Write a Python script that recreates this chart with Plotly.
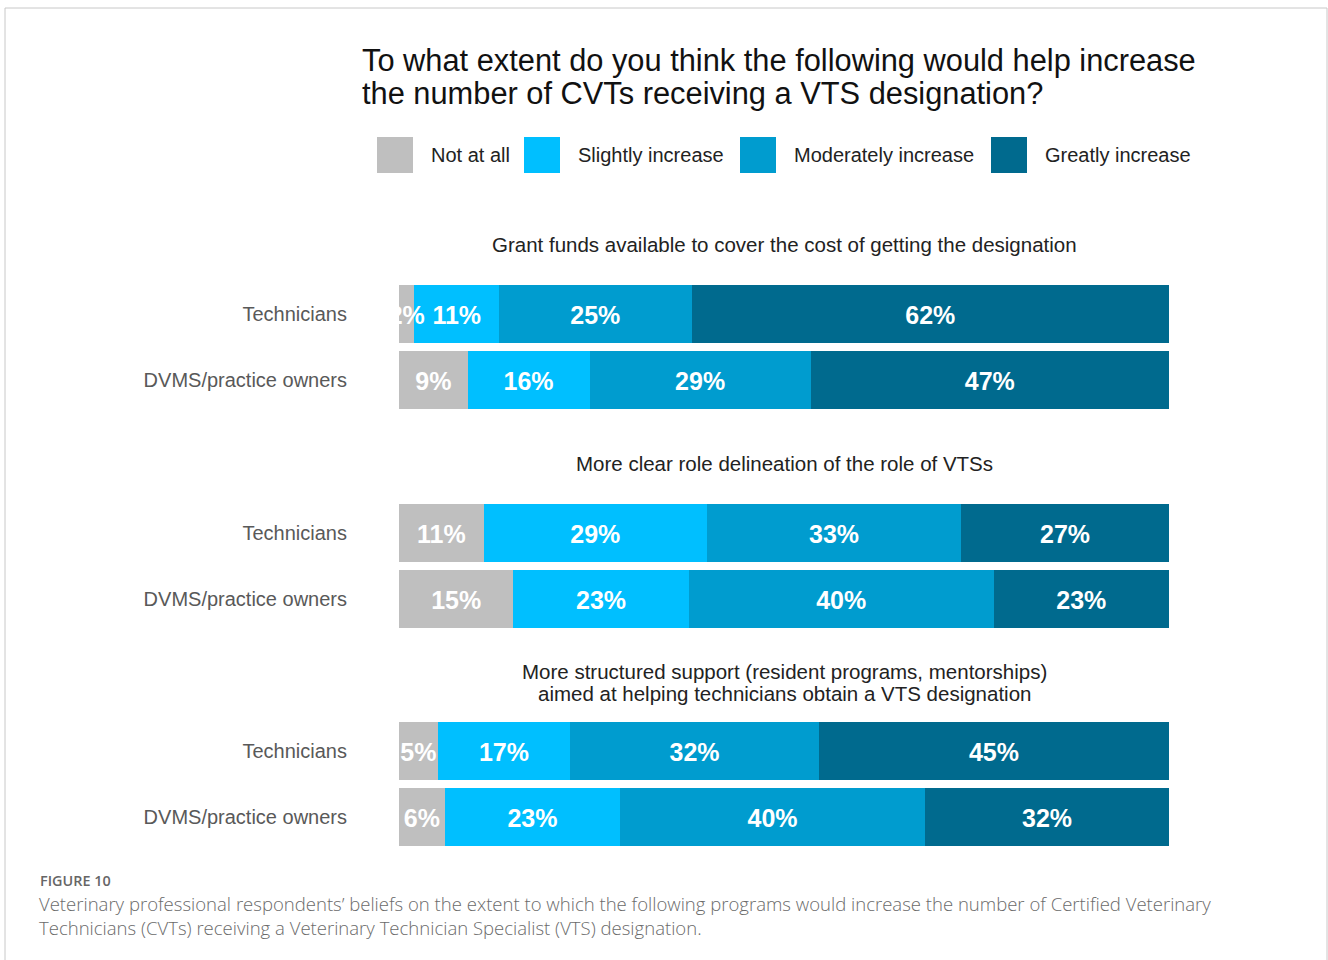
import plotly.graph_objects as go

W, H = 1328, 960
OFF = 0  # body margin removed via post_script

# ---------------- data ----------------
groups = [
    "Grant funds available to cover the cost of getting the designation",
    "More clear role delineation of the role of VTSs",
    "More structured support (resident programs, mentorships)<br>aimed at helping technicians obtain a VTS designation",
]
respondents = ["Technicians", "DVMS/practice owners"]
levels = ["Not at all", "Slightly increase", "Moderately increase", "Greatly increase"]
not_at_all = [[2, 9], [11, 15], [5, 6]]
slightly = [[11, 16], [29, 23], [17, 23]]
moderately = [[25, 29], [33, 40], [32, 40]]
greatly = [[62, 47], [27, 23], [45, 32]]
series = [not_at_all, slightly, moderately, greatly]
colors = ["#BFBFBF", "#00BFFF", "#009CCF", "#006A8E"]

title_lines = [
    "To what extent do you think the following would help increase",
    "the number of CVTs receiving a VTS designation?",
]
fig_label = "FIGURE 10"
caption_lines = [
    "Veterinary professional respondents\u2019 beliefs on the extent to which the following programs would increase the number of Certified Veterinary",
    "Technicians (CVTs) receiving a Veterinary Technician Specialist (VTS) designation.",
]

# ---------------- helpers (screen pixel -> paper) ----------------
def px(x):
    return (x - OFF) / W

def py(y):
    return 1 - (y - OFF) / H

FONT = "Liberation Sans, Arial, sans-serif"
CAP_FONT = "Open Sans, Noto Sans, sans-serif"

# bar area geometry (screen pixels)
x_left, x_right = 399, 1169
group_tops = [281, 500, 718]
group_h = 132

y_pos = list(range(len(respondents)))
label_nudge = 0.06  # optical vertical centring of value labels (fraction of a row)

fig = go.Figure()

for g in range(3):
    ax = "" if g == 0 else str(g + 1)
    # bars (normalised to 100% by barnorm)
    for k, lvl in enumerate(levels):
        vals = series[k][g]
        fig.add_trace(go.Bar(
            y=y_pos,
            x=vals,
            orientation="h",
            name=lvl,
            marker=dict(color=colors[k], line=dict(width=0)),
            showlegend=False,
            customdata=[[respondents[r], f"{vals[r]}%"] for r in y_pos],
            hovertemplate="%{customdata[0]}: %{customdata[1]}<extra>" + lvl + "</extra>",
            xaxis="x" + ax,
            yaxis="y" + ax,
        ))
    # value labels drawn on top of all bars (centre of each normalised segment)
    totals = [sum(series[k][g][r] for k in range(4)) for r in y_pos]
    cum = [0] * len(respondents)
    for k, lvl in enumerate(levels):
        vals = series[k][g]
        mids = [(cum[r] + vals[r] / 2) / totals[r] * 100 for r in y_pos]
        cum = [cum[r] + vals[r] for r in y_pos]
        fig.add_trace(go.Scatter(
            y=[p + label_nudge for p in y_pos],
            x=mids,
            mode="text",
            text=[f"{v}%" for v in vals],
            textposition="middle center",
            textfont=dict(family=FONT, size=25, color="white", weight="bold"),
            cliponaxis=True,
            showlegend=False,
            hoverinfo="skip",
            xaxis="x" + ax,
            yaxis="y" + ax,
        ))

layout_axes = {}
for g in range(3):
    ax = "" if g == 0 else str(g + 1)
    top = group_tops[g]
    layout_axes["xaxis" + ax] = dict(
        domain=[px(x_left), px(x_right)],
        range=[0, 100],
        anchor="y" + ax,
        showgrid=False, zeroline=False, showline=False,
        showticklabels=False, ticks="", fixedrange=True,
    )
    layout_axes["yaxis" + ax] = dict(
        domain=[py(top + group_h), py(top)],
        anchor="x" + ax,
        range=[len(respondents) - 0.5, -0.5],
        tickmode="array",
        tickvals=y_pos,
        ticktext=respondents,
        showgrid=False, zeroline=False, showline=False,
        ticks="",
        ticklabelstandoff=51,
        tickfont=dict(family=FONT, size=20, color="#595959"),
        fixedrange=True,
    )

fig.update_layout(
    width=W, height=H,
    margin=dict(l=0, r=0, t=0, b=0),
    template="none",
    paper_bgcolor="white",
    plot_bgcolor="white",
    barmode="stack",
    barnorm="percent",
    bargap=8 / 66,
    showlegend=False,
    **layout_axes,
)

annotations = []
shapes = []

# frame
shapes.append(dict(type="rect", xref="paper", yref="paper",
                   x0=px(5), x1=px(1327), y0=py(990), y1=py(8),
                   line=dict(color="#C8C8C8", width=1), fillcolor="rgba(0,0,0,0)"))

# title
for i, line in enumerate(title_lines):
    annotations.append(dict(text=line, xref="paper", yref="paper",
                            x=px(360), y=py(60 + 33 * i), xanchor="left", yanchor="middle",
                            showarrow=False,
                            font=dict(family=FONT, size=30.8, color="#111111")))

# legend (custom large squares)
legend_sq_x = [377, 524, 740, 991]
for k, lvl in enumerate(levels):
    x0 = legend_sq_x[k]
    shapes.append(dict(type="rect", xref="paper", yref="paper",
                       x0=px(x0), x1=px(x0 + 36), y0=py(173), y1=py(137),
                       line=dict(width=0), fillcolor=colors[k]))
    annotations.append(dict(text=lvl, xref="paper", yref="paper",
                            x=px(x0 + 52), y=py(155), xanchor="left", yanchor="middle",
                            showarrow=False,
                            font=dict(family=FONT, size=20, color="#222222")))

# group subtitles
sub_centers = [[245], [463], [671, 693]]
for g, text in enumerate(groups):
    lines = text.split("<br>")
    for j, line in enumerate(lines):
        annotations.append(dict(text=line, xref="paper", yref="paper",
                                x=px((x_left + x_right) / 2), y=py(sub_centers[g][j]),
                                xanchor="center", yanchor="middle", showarrow=False,
                                font=dict(family=FONT, size=20.5, color="#222222")))

# caption
annotations.append(dict(text=fig_label, xref="paper", yref="paper",
                        x=px(38), y=py(880), xanchor="left", yanchor="middle",
                        showarrow=False,
                        font=dict(family=CAP_FONT, size=14.4, color="#666666", weight=600)))
for i, line in enumerate(caption_lines):
    annotations.append(dict(text=line, xref="paper", yref="paper",
                            x=px(37), y=py(903 + 24 * i), xanchor="left", yanchor="middle",
                            showarrow=False,
                            font=dict(family=CAP_FONT, size=18.55, color="#6B6B6B", weight=300)))

fig.update_layout(annotations=annotations, shapes=shapes)

fig.write_html("out.html",
               config={"displayModeBar": False},
               post_script="document.body.style.margin='0';document.body.style.overflow='hidden';")
